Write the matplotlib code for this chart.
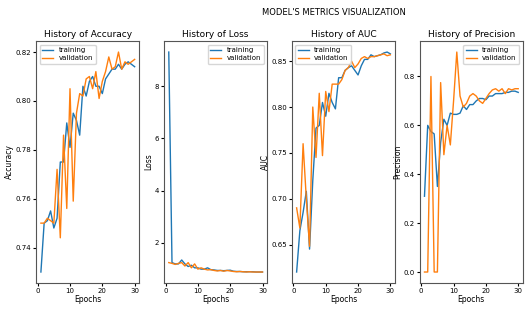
import matplotlib
matplotlib.use('Agg')
import matplotlib.pyplot as plt
import numpy as np

epochs = np.arange(1, 31)

acc_train = [0.730, 0.750, 0.751, 0.755, 0.748, 0.752, 0.775, 0.775, 0.791, 0.781,
             0.795, 0.792, 0.786, 0.806, 0.802, 0.808, 0.810, 0.806, 0.806, 0.803,
             0.809, 0.811, 0.813, 0.813, 0.815, 0.813, 0.815, 0.816, 0.815, 0.814]
acc_val = [0.750, 0.750, 0.752, 0.751, 0.750, 0.772, 0.744, 0.786, 0.756, 0.805,
           0.759, 0.795, 0.803, 0.802, 0.809, 0.810, 0.805, 0.812, 0.801, 0.808,
           0.812, 0.818, 0.813, 0.814, 0.820, 0.813, 0.816, 0.815, 0.816, 0.817]

loss_train = [9.3, 1.25, 1.2, 1.2, 1.35, 1.2, 1.1, 1.15, 1.05, 1.05,
              1.0, 1.0, 1.05, 0.98, 0.97, 0.95, 0.95, 0.94, 0.95, 0.96,
              0.92, 0.91, 0.91, 0.9, 0.9, 0.9, 0.9, 0.89, 0.89, 0.89]
loss_val = [1.25, 1.22, 1.18, 1.22, 1.25, 1.12, 1.25, 1.05, 1.2, 1.0,
            1.05, 1.0, 0.97, 0.98, 0.95, 0.93, 0.95, 0.92, 0.95, 0.93,
            0.91, 0.9, 0.91, 0.9, 0.89, 0.9, 0.89, 0.89, 0.89, 0.89]

auc_train = [0.620, 0.665, 0.685, 0.708, 0.645, 0.720, 0.777, 0.780, 0.805, 0.790,
             0.815, 0.805, 0.798, 0.832, 0.832, 0.840, 0.843, 0.845, 0.840, 0.835,
             0.845, 0.852, 0.852, 0.857, 0.855, 0.856, 0.857, 0.859, 0.860, 0.858]
auc_val = [0.690, 0.668, 0.760, 0.700, 0.648, 0.800, 0.745, 0.815, 0.747, 0.817,
           0.795, 0.825, 0.825, 0.825, 0.830, 0.840, 0.843, 0.850, 0.843, 0.847,
           0.853, 0.855, 0.853, 0.855, 0.855, 0.856, 0.857, 0.858, 0.856, 0.857]

prec_train = [0.31, 0.60, 0.575, 0.565, 0.35, 0.53, 0.625, 0.60, 0.65, 0.645,
              0.645, 0.65, 0.68, 0.665, 0.685, 0.685, 0.70, 0.71, 0.71, 0.705,
              0.72, 0.72, 0.73, 0.73, 0.73, 0.735, 0.735, 0.74, 0.74, 0.735]
prec_val = [0.0, 0.0, 0.80, 0.0, 0.0, 0.775, 0.48, 0.60, 0.52, 0.70,
            0.90, 0.72, 0.675, 0.69, 0.72, 0.73, 0.72, 0.70, 0.69, 0.71,
            0.73, 0.745, 0.75, 0.74, 0.75, 0.73, 0.75, 0.745, 0.75, 0.75]

metricas = [
    ('Accuracy', acc_train, acc_val, 'upper left'),
    ('Loss', loss_train, loss_val, 'upper right'),
    ('AUC', auc_train, auc_val, 'upper left'),
    ('Precision', prec_train, prec_val, 'upper right'),
]

fig, axes = plt.subplots(1, 4, figsize=(5.25, 3.11), dpi=100)
fig.subplots_adjust(left=0.069, right=0.996, top=0.868, bottom=0.09, wspace=0.24)

for ax, (nombre, train, val, loc) in zip(axes, metricas):
    ax.plot(epochs, train, label='training', lw=1)
    ax.plot(epochs, val, label='validation', lw=1)
    ax.set_title('History of ' + nombre, fontsize=6.5, pad=3)
    ax.set_xlabel('Epochs', fontsize=5.5, labelpad=1)
    ax.set_ylabel(nombre, fontsize=5.5, labelpad=1)
    ax.tick_params(labelsize=5, length=2, pad=1.5)
    for s in ax.spines.values():
        s.set_color('#555555')
    ax.legend(loc=loc, fontsize=5, handlelength=1.5, borderpad=0.4, labelspacing=0.3)

fig.suptitle("MODEL'S METRICS VISUALIZATION", x=0.636, y=0.975, fontsize=6)

plt.savefig('out.png', dpi=100)
